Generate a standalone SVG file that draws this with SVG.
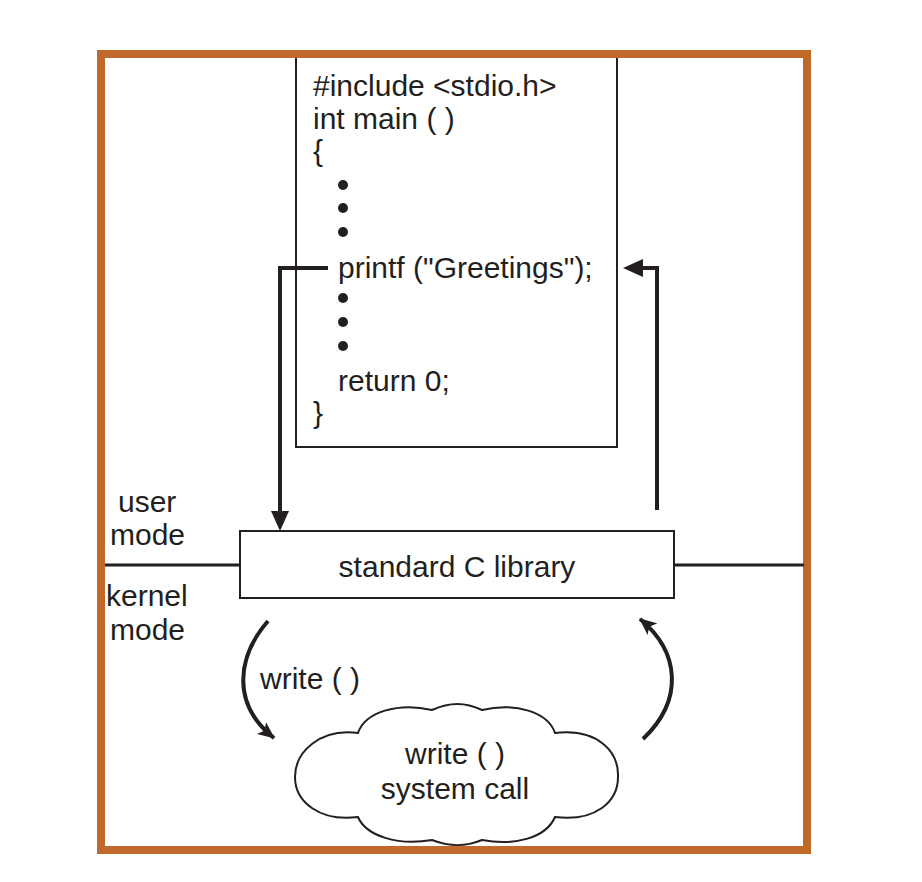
<svg xmlns="http://www.w3.org/2000/svg" width="922" height="882" viewBox="0 0 922 882">
<style>
text{font-family:"Liberation Sans",Arial,sans-serif;font-size:30px;fill:#231f20}
.box{fill:#fff;stroke:#231f20;stroke-width:2}
.conn{fill:none;stroke:#231f20;stroke-width:4}
.mid{text-anchor:middle}
</style>
<defs>
<marker id="ahc" markerWidth="17" markerHeight="15" viewBox="0 0 17 15" refX="16" refY="7.5" orient="auto" markerUnits="userSpaceOnUse">
<path d="M0,0 L17,7.5 L0,15 L4,7.5 Z" fill="#231f20"/>
</marker>
</defs>
<rect x="0" y="0" width="922" height="882" fill="#fff"/>
<g id="frame">
<rect x="101" y="54" width="706" height="796" fill="#fff" stroke="#c0692a" stroke-width="8"/>
</g>
<g id="mode-line">
<line x1="105" y1="565" x2="804" y2="565" stroke="#231f20" stroke-width="3"/>
</g>
<g id="code">
<path class="box" d="M296,58 L296,447 L617,447 L617,58"/>
<text x="313" y="96">#include &lt;stdio.h&gt;</text>
<text x="313" y="129">int main ( )</text>
<text x="313" y="161">{</text>
<circle cx="343" cy="185" r="5" fill="#231f20"/>
<circle cx="343" cy="208" r="5" fill="#231f20"/>
<circle cx="343" cy="232" r="5" fill="#231f20"/>
<text x="338" y="278">printf ("Greetings");</text>
<circle cx="343" cy="298" r="5" fill="#231f20"/>
<circle cx="343" cy="322" r="5" fill="#231f20"/>
<circle cx="343" cy="346" r="5" fill="#231f20"/>
<text x="338" y="391">return 0;</text>
<text x="313" y="423">}</text>
</g>
<g id="library">
<rect class="box" x="240" y="531" width="434" height="67"/>
<text class="mid" x="457" y="577">standard C library</text>
</g>
<g id="mode-labels">
<text x="118" y="512">user</text>
<text x="110" y="545">mode</text>
<text x="106" y="606">kernel</text>
<text x="110" y="640">mode</text>
</g>
<g id="syscall">
<path class="box" d="M358,733 C365,712 398,702 432,710 C450,702 465,702 482,710 C515,702 548,712 555,733 C598,728 619,752 618,777 C618,802 595,822 555,817 C546,838 515,846 482,840 C465,847 450,847 432,840 C398,846 366,836 358,817 C320,822 295,802 295,777 C295,752 320,728 358,733 Z"/>
<text class="mid" x="455" y="764">write ( )</text>
<text class="mid" x="455" y="799">system call</text>
</g>
<g id="connectors">
<path class="conn" d="M328,268 L280,268 L280,512"/>
<path d="M271,511 L289,511 L280,531 Z" fill="#231f20"/>
<path class="conn" d="M657,510 L657,268 L642,268"/>
<path d="M643,259 L643,277 L623,268 Z" fill="#231f20"/>
<path class="conn" stroke-width="3.5" d="M268,621 C236,658 232,705 274,738" marker-end="url(#ahc)"/>
<path class="conn" stroke-width="3.5" d="M643,739 C684,700 680,652 640,619" marker-end="url(#ahc)"/>
<text x="260" y="689">write ( )</text>
</g>
</svg>
